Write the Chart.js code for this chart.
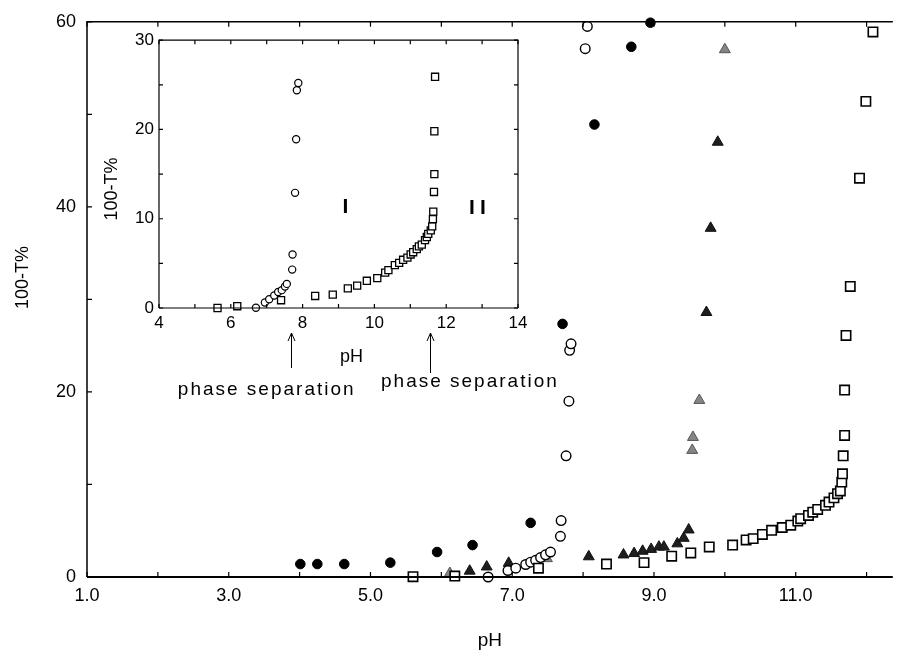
<!DOCTYPE html>
<html lang="en">
<head>
<meta charset="UTF-8">
<title>100-T% vs pH</title>
<script src="https://cdn.jsdelivr.net/npm/chart.js"></script>
<style>
  body { margin: 0; background: #fff; }
  #wrap { position: relative; width: 901px; height: 654px; }
  #mainChart { position: absolute; left: 0; top: 0; }
  #insetChart { position: absolute; left: 100px; top: 25px; }
</style>
</head>
<body>
<div id="wrap">
  <canvas id="mainChart" width="901" height="654"></canvas>
  <canvas id="insetChart" width="480" height="380"></canvas>
</div>
<script>
// main plot, points are [pH, 100-T%]
const filledCircles = [[4.01,1.4],[4.25,1.4],[4.63,1.4],[5.28,1.55],[5.94,2.7],[6.44,3.45],[7.26,5.85],[7.71,27.35],[8.16,48.9],[8.68,57.3],[8.95,59.9]];
const openCircles = [[6.66,0.0],[6.94,0.7],[7.05,0.95],[7.19,1.35],[7.26,1.6],[7.33,1.8],[7.40,2.1],[7.47,2.4],[7.54,2.7],[7.68,4.4],[7.69,6.1],[7.76,13.1],[7.80,19.0],[7.81,24.5],[7.83,25.2],[8.03,57.1],[8.06,59.5]];
const darkTriangles = [[6.40,0.65],[6.64,1.1],[6.95,1.5],[8.08,2.2],[8.57,2.4],[8.72,2.55],[8.84,2.8],[8.96,3.0],[9.07,3.25],[9.14,3.25],[9.33,3.6],[9.42,4.2],[9.49,5.1],[9.74,28.6],[9.80,37.7],[9.90,47.0]];
const grayTriangles = [[6.12,0.4],[7.49,2.0],[9.54,13.7],[9.55,15.1],[9.64,19.1],[10.0,57.0]];
const openSquares = [[5.60,0.03],[6.19,0.1],[7.37,0.95],[8.33,1.4],[8.86,1.55],[9.25,2.25],[9.52,2.6],[9.78,3.25],[10.11,3.45],[10.30,4.0],[10.40,4.15],[10.53,4.6],[10.66,5.05],[10.81,5.35],[10.93,5.6],[11.03,6.05],[11.07,6.3],[11.18,6.65],[11.24,7.0],[11.31,7.3],[11.42,7.75],[11.47,8.1],[11.54,8.55],[11.59,9.0],[11.63,9.3],[11.65,10.25],[11.66,11.15],[11.67,13.1],[11.69,15.3],[11.69,20.2],[11.71,26.1],[11.77,31.4],[11.90,43.1],[11.99,51.4],[12.09,58.9]];

// inset plot
const insetCircles = [[6.70,0.03],[6.95,0.62],[7.07,0.98],[7.21,1.4],[7.32,1.8],[7.42,2.0],[7.51,2.4],[7.56,2.7],[7.71,4.3],[7.72,6.0],[7.79,12.9],[7.82,18.9],[7.84,24.4],[7.88,25.2]];
const insetSquares = [[5.63,0.0],[6.18,0.2],[7.40,0.87],[8.35,1.35],[8.84,1.5],[9.26,2.2],[9.52,2.5],[9.79,3.05],[10.08,3.35],[10.30,3.96],[10.39,4.25],[10.57,4.8],[10.69,5.05],[10.80,5.4],[10.92,5.65],[11.01,6.0],[11.08,6.25],[11.18,6.6],[11.24,6.9],[11.32,7.1],[11.41,7.6],[11.46,7.95],[11.50,8.3],[11.57,8.7],[11.61,9.15],[11.63,9.95],[11.64,10.8],[11.66,13.0],[11.67,15.0],[11.67,19.8],[11.69,25.9]];

// tick labels
const mainXLabels = [1, 3, 5, 7, 9, 11];
const mainYLabels = [0, 20, 40, 60];
const insetXLabels = [4, 6, 8, 10, 12, 14];
const insetYLabels = [0, 10, 20, 30];

// inset annotations
const regionLabels = ['I', 'II'];
const regionPH = [9.26, 12.94];
const regionY = [11.3, 11.2];
const arrowPH = [7.67, 11.55];
const phaseText = 'phase separation';
const phaseTextPH = [7.0, 12.66];

const FONT = '"Liberation Sans", Arial, Helvetica, sans-serif';
const toXY = arr => arr.map(p => ({ x: p[0], y: p[1] }));
const near = (list, v) => list.some(l => Math.abs(l - v) < 1e-6);

// inward ticks and frame lines
function framePlugin(cfg) {
  return {
    id: 'frame',
    afterDraw(chart) {
      const { ctx, chartArea: a, scales: { x, y } } = chart;
      ctx.save();
      ctx.strokeStyle = '#000';
      ctx.lineCap = 'butt';
      // frame
      ctx.lineWidth = cfg.bottomWidth;
      ctx.beginPath(); ctx.moveTo(a.left, a.bottom); ctx.lineTo(a.right, a.bottom); ctx.stroke();
      ctx.lineWidth = cfg.lineWidth;
      ctx.beginPath();
      ctx.moveTo(a.left, a.bottom); ctx.lineTo(a.left, a.top); ctx.lineTo(a.right, a.top);
      if (cfg.rightSide) ctx.lineTo(a.right, a.bottom);
      ctx.stroke();
      // ticks
      ctx.lineWidth = 1.2;
      ctx.beginPath();
      x.ticks.forEach(t => {
        const px = x.getPixelForValue(t.value);
        ctx.moveTo(px, a.bottom); ctx.lineTo(px, a.bottom - cfg.tick);
        ctx.moveTo(px, a.top); ctx.lineTo(px, a.top + cfg.tick);
      });
      y.ticks.forEach(t => {
        const py = y.getPixelForValue(t.value);
        ctx.moveTo(a.left, py); ctx.lineTo(a.left + cfg.tick, py);
        if (cfg.rightSide) { ctx.moveTo(a.right, py); ctx.lineTo(a.right - cfg.tick, py); }
      });
      ctx.stroke();
      // axis titles that sit off-centre in the original
      ctx.fillStyle = '#000';
      ctx.textAlign = 'center';
      ctx.textBaseline = 'middle';
      ctx.font = cfg.titleSize + 'px ' + FONT;
      const cx = (a.left + a.right) / 2, cy = (a.top + a.bottom) / 2;
      if (cfg.xTitle) ctx.fillText(cfg.xTitle, cx + cfg.xTitleShift, a.bottom + cfg.xTitleDrop);
      if (cfg.yTitle) {
        ctx.translate(a.left - cfg.yTitleGap, cy + cfg.yTitleShift);
        ctx.rotate(-Math.PI / 2);
        ctx.fillText(cfg.yTitle, 0, 0);
      }
      ctx.restore();
    }
  };
}

const insetDecor = {
  id: 'insetDecor',
  afterDraw(chart) {
    const { ctx, chartArea: a, scales: { x, y } } = chart;
    ctx.save();
    ctx.fillStyle = '#000';
    ctx.strokeStyle = '#000';
    ctx.textAlign = 'center';
    ctx.textBaseline = 'middle';
    ctx.font = 'bold 21px ' + FONT;
    ctx.letterSpacing = '5px';
    regionLabels.forEach((t, i) => {
      ctx.fillText(t, x.getPixelForValue(regionPH[i]), y.getPixelForValue(regionY[i]));
    });
    // arrows
    ctx.lineWidth = 1;
    arrowPH.forEach((v, i) => {
      const px = Math.round(x.getPixelForValue(v)) + 0.5;
      const top = a.bottom + 25, bot = a.bottom + (i === 0 ? 60 : 65);
      ctx.beginPath();
      ctx.moveTo(px, bot); ctx.lineTo(px, top);
      ctx.moveTo(px - 3.5, top + 8); ctx.lineTo(px, top); ctx.lineTo(px + 3.5, top + 8);
      ctx.stroke();
    });
    ctx.font = '19px ' + FONT;
    ctx.letterSpacing = '2px';
    phaseTextPH.forEach((v, i) => {
      ctx.fillText(phaseText, x.getPixelForValue(v), a.bottom + (i === 0 ? 82 : 74));
    });
    ctx.restore();
  }
};

const mainDatasets = [
  { data: toXY(openSquares), pointStyle: 'rect', pointRadius: 6.6, backgroundColor: '#fff', borderColor: '#000', borderWidth: 1.6 },
  { data: toXY(openCircles), pointStyle: 'circle', pointRadius: 4.8, backgroundColor: '#fff', borderColor: '#000', borderWidth: 1.4 },
  { data: toXY(filledCircles), pointStyle: 'circle', pointRadius: 4.8, backgroundColor: '#000', borderColor: '#000', borderWidth: 1 },
  { data: toXY(darkTriangles), pointStyle: 'triangle', pointRadius: 6.3, backgroundColor: '#1e1e1e', borderColor: '#111', borderWidth: 1 },
  { data: toXY(grayTriangles), pointStyle: 'triangle', pointRadius: 6.3, backgroundColor: '#858585', borderColor: '#555', borderWidth: 1 }
].map(d => Object.assign(d, { clip: false, pointHoverRadius: d.pointRadius }));

new Chart(document.getElementById('mainChart'), {
  type: 'scatter',
  data: { datasets: mainDatasets },
  options: {
    responsive: false,
    animation: false,
    devicePixelRatio: 1,
    layout: { padding: { top: 19, right: 0, bottom: 0, left: 0 } },
    plugins: { legend: { display: false }, tooltip: { enabled: false } },
    scales: {
      x: {
        type: 'linear', min: 1, max: 12.37,
        grid: { display: false, drawTicks: false },
        border: { display: false },
        ticks: {
          stepSize: 1, includeBounds: false, autoSkip: false, maxRotation: 0, padding: 8,
          color: '#000', font: { family: FONT, size: 18 },
          callback: v => near(mainXLabels, v) ? v.toFixed(1) : ''
        },
        title: { display: true, text: 'pH', color: '#000', font: { family: FONT, size: 19 }, padding: { top: 0, bottom: 2 } },
        afterFit: s => { s.height = 77; }
      },
      y: {
        type: 'linear', min: 0, max: 60,
        grid: { display: false, drawTicks: false },
        border: { display: false },
        ticks: {
          stepSize: 10, autoSkip: false, padding: 11,
          color: '#000', font: { family: FONT, size: 18 },
          callback: v => near(mainYLabels, v) ? String(v) : ''
        },
        afterFit: s => { s.width = 87; }
      }
    }
  },
  plugins: [framePlugin({ lineWidth: 1.5, bottomWidth: 2, tick: 5, rightSide: false,
    titleSize: 18, yTitle: '100-T%', yTitleGap: 64, yTitleShift: -22 })]
});

new Chart(document.getElementById('insetChart'), {
  type: 'scatter',
  data: {
    datasets: [
      { data: toXY(insetSquares), pointStyle: 'rect', pointRadius: 5, backgroundColor: '#fff', borderColor: '#000', borderWidth: 1.3 },
      { data: toXY(insetCircles), pointStyle: 'circle', pointRadius: 3.6, backgroundColor: '#fff', borderColor: '#000', borderWidth: 1.2 }
    ].map(d => Object.assign(d, { clip: false, pointHoverRadius: d.pointRadius }))
  },
  options: {
    responsive: false,
    animation: false,
    devicePixelRatio: 1,
    layout: { padding: { top: 8, right: 62, bottom: 37, left: 0 } },
    plugins: { legend: { display: false }, tooltip: { enabled: false } },
    scales: {
      x: {
        type: 'linear', min: 4, max: 14,
        grid: { display: false, drawTicks: false },
        border: { display: false },
        ticks: {
          stepSize: 1, autoSkip: false, maxRotation: 0, padding: 5,
          color: '#000', font: { family: FONT, size: 17 },
          callback: v => near(insetXLabels, v) ? String(v) : ''
        },
        afterFit: s => { s.height = 60; }
      },
      y: {
        type: 'linear', min: 0, max: 30,
        grid: { display: false, drawTicks: false },
        border: { display: false },
        ticks: {
          stepSize: 5, autoSkip: false, padding: 5,
          color: '#000', font: { family: FONT, size: 17 },
          callback: v => near(insetYLabels, v) ? String(v) : ''
        },
        afterFit: s => { s.width = 59; }
      }
    }
  },
  plugins: [framePlugin({ lineWidth: 1.2, bottomWidth: 1.2, tick: 4, rightSide: true,
    titleSize: 18, xTitle: 'pH', xTitleShift: 13, xTitleDrop: 49,
    yTitle: '100-T%', yTitleGap: 47, yTitleShift: 15 }), insetDecor]
});
</script>
</body>
</html>
